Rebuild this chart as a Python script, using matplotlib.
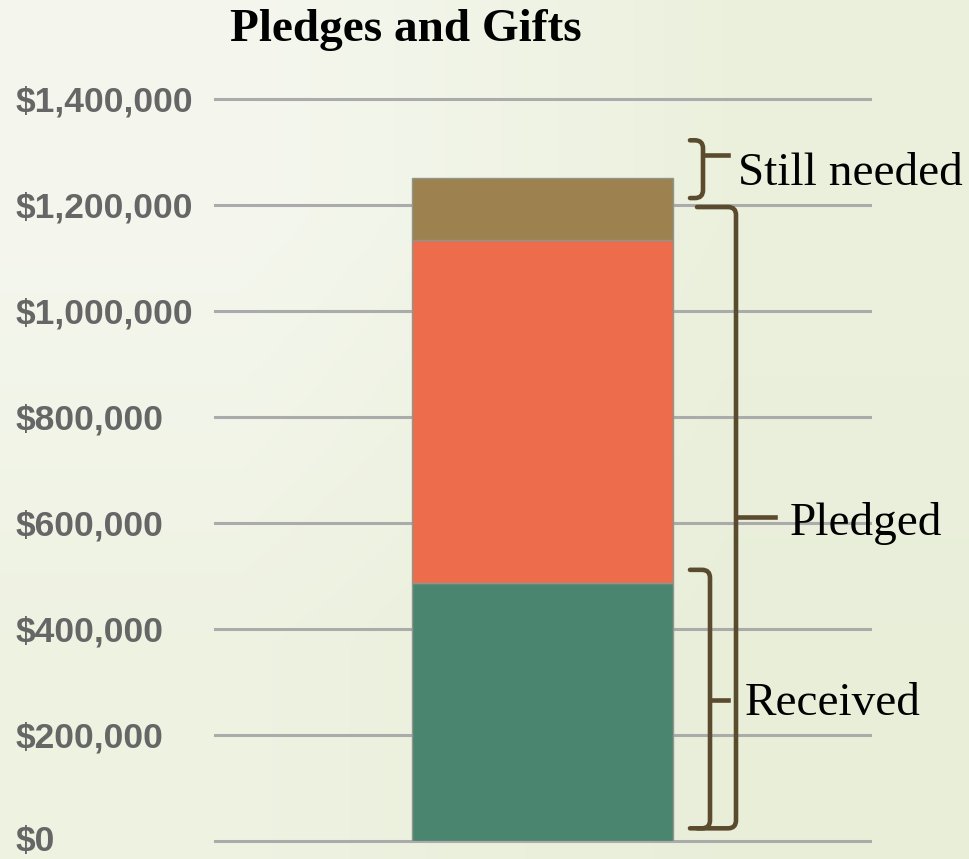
import numpy as np
import matplotlib
matplotlib.use("Agg")
import matplotlib.pyplot as plt
from matplotlib.path import Path
from matplotlib.patches import PathPatch
from matplotlib.transforms import blended_transform_factory, ScaledTranslation

# data
categories = ["Pledges and Gifts"]
received = [486000]
pledged_total = [1134000]
goal = [1250000]
tick_values = [0, 200000, 400000, 600000, 800000, 1000000, 1200000, 1400000]
tick_labels = ["$0", "$200,000", "$400,000", "$600,000", "$800,000",
               "$1,000,000", "$1,200,000", "$1,400,000"]

pledged_only = [p - r for p, r in zip(pledged_total, received)]
still_needed = [g - p for g, p in zip(goal, pledged_total)]

W, H = 970, 859
fig = plt.figure(figsize=(W / 100, H / 100), dpi=100)

# background gradient
bg = fig.add_axes([0, 0, 1, 1], zorder=-10)
grad = np.array([[[0.960, 0.968, 0.935], [0.925, 0.945, 0.870]],
                 [[0.935, 0.950, 0.885], [0.910, 0.935, 0.850]]])
bg.imshow(grad, aspect="auto", interpolation="bilinear", extent=[0, 1, 0, 1])
bg.axis("off")

ax = fig.add_axes([215 / W, (H - 840.5) / H, 655 / W, (840.5 - 99) / H])
ax.patch.set_alpha(0)
ax.set_xlim(-1, 1)
ax.set_ylim(0, 1400000)

x = np.arange(len(categories))
bw = 0.797
ax.bar(x, received, bw, color="#4a866f", edgecolor="#8f968c", linewidth=1, zorder=3)
ax.bar(x, pledged_only, bw, bottom=received, color="#ec6c4c", edgecolor="#8f968c",
       linewidth=1, zorder=3)
ax.bar(x, still_needed, bw, bottom=pledged_total, color="#9d824f", edgecolor="#8f968c",
       linewidth=1, zorder=3)

ax.set_yticks(tick_values)
ax.set_yticklabels(tick_labels, fontfamily="Liberation Sans", fontweight="bold",
                   fontsize=25.5, color="#666666", ha="left")
ax.tick_params(axis="y", length=0, pad=(215 - 16) * 0.72)
ax.set_xticks([])
for s in ax.spines.values():
    s.set_visible(False)
ax.grid(axis="y", color="#ababab", linewidth=2.2, zorder=1)
for gl in ax.get_ygridlines():
    gl.set_clip_on(False)
# keep the bottom label inside the figure
lbl0 = ax.get_yticklabels()[0]
lbl0.set_transform(lbl0.get_transform() + ScaledTranslation(0, 3 / 100, fig.dpi_scale_trans))

fig.text(406 / W, (H - 30) / H, "Pledges and Gifts", ha="center", va="center",
         fontfamily="Liberation Serif", fontweight="bold", fontsize=34)

# braces: x in pixel columns, y in data units
tr = blended_transform_factory(ax.transAxes, ax.transData)
def px(p):
    return (p - 215) / 655.0

BR = "#5a4a2e"
def brace(xl, xv, xt, ytop, ybot, ytip):
    rx = 8 / 655.0
    ry = 8 * 1888.6
    a, v = px(xl), px(xv)
    verts = [(a, ytop), (v - rx, ytop), (v, ytop), (v, ytop - ry),
             (v, ybot + ry), (v, ybot), (v - rx, ybot), (a, ybot)]
    codes = [Path.MOVETO, Path.LINETO, Path.CURVE3, Path.CURVE3,
             Path.LINETO, Path.CURVE3, Path.CURVE3, Path.LINETO]
    ax.add_patch(PathPatch(Path(verts, codes), fill=False, edgecolor=BR, lw=3.3,
                           transform=tr, clip_on=False, zorder=4,
                           capstyle="round", joinstyle="round"))
    ax.plot([v, px(xt)], [ytip, ytip], color=BR, lw=3.3,
            transform=tr, clip_on=False, zorder=4)

brace(690, 703, 728, 1322000, 1213000, 1295000)
brace(697, 736, 775, 1196000, 23000, 611000)
brace(690, 710, 728, 511000, 23000, 265000)

lab = dict(fontfamily="Liberation Serif", fontsize=34, color="black",
           transform=tr, va="baseline", ha="left", clip_on=False)
ax.text(px(738), 1238000, "Still needed", **lab)
ax.text(px(790), 577000, "Pledged", **lab)
ax.text(px(745), 237000, "Received", **lab)

fig.savefig("out.png", dpi=100)
